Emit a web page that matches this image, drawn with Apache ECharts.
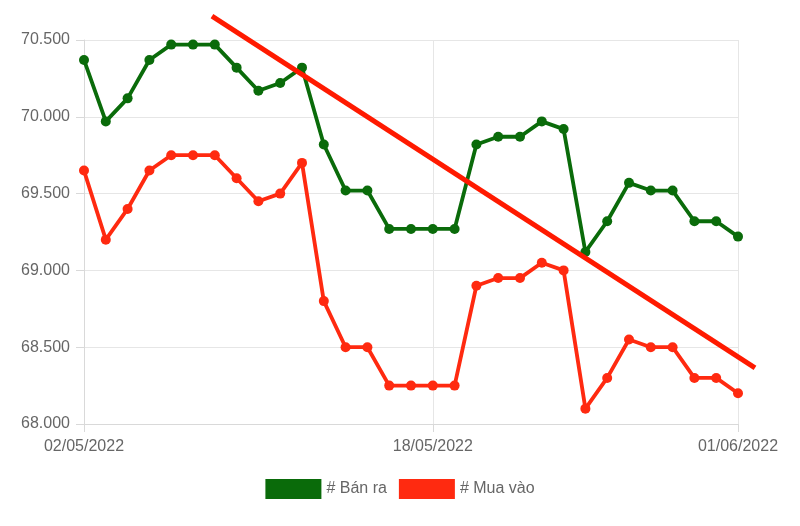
<!DOCTYPE html>
<html>
<head>
<meta charset="utf-8">
<script src="https://cdn.jsdelivr.net/npm/echarts@6/dist/echarts.min.js"></script>
<style>
html,body{margin:0;padding:0;background:#fff;}
#chart{width:800px;height:526px;}
</style>
</head>
<body>
<div id="chart"></div>
<script>
const categories = ["02/05/2022","03/05/2022","04/05/2022","05/05/2022","06/05/2022","07/05/2022","08/05/2022","09/05/2022","10/05/2022","11/05/2022","12/05/2022","13/05/2022","14/05/2022","15/05/2022","16/05/2022","17/05/2022","18/05/2022","19/05/2022","20/05/2022","21/05/2022","22/05/2022","23/05/2022","24/05/2022","25/05/2022","26/05/2022","27/05/2022","28/05/2022","29/05/2022","30/05/2022","31/05/2022","01/06/2022"];
const banRa = [70370,69970,70120,70370,70470,70470,70470,70320,70170,70220,70320,69820,69520,69520,69270,69270,69270,69270,69820,69870,69870,69970,69920,69120,69320,69570,69520,69520,69320,69320,69220];
const muaVao = [69650,69200,69400,69650,69750,69750,69750,69600,69450,69500,69700,68800,68500,68500,68250,68250,68250,68250,68900,68950,68950,69050,69000,68100,68300,68550,68500,68500,68300,68300,68200];
const trendX = [5.87, 30.78];
const trendY = [70656, 68365];
const labelIdx = [0, 16, 30];
const seriesNames = ["# Bán ra", "# Mua vào"];

function fmt(v){ return v.toFixed(0).replace(/\B(?=(\d{3})+(?!\d))/g, '.'); }

const chart = echarts.init(document.getElementById('chart'));
const font = 'Liberation Sans, Arial, sans-serif';
chart.setOption({
  animation: false,
  textStyle: {fontFamily: font},
  legend: {
    data: seriesNames,
    top: 474,
    left: 'center',
    icon: 'rect',
    itemWidth: 56,
    itemHeight: 20,
    itemGap: 12,
    textStyle: {color: '#666', fontSize: 16, fontFamily: font}
  },
  grid: {left: 84, right: 62, top: 40, bottom: 102},
  xAxis: [{
    type: 'category',
    data: categories,
    boundaryGap: false,
    axisLine: {show: true, lineStyle: {color: '#d9d9d9', width: 1}},
    axisTick: {show: true, length: 8, lineStyle: {color: '#d9d9d9'}, interval: (i) => labelIdx.includes(i)},
    axisLabel: {color: '#666', fontSize: 16, margin: 15, interval: (i) => labelIdx.includes(i), showMinLabel: true, showMaxLabel: true},
    splitLine: {show: true, lineStyle: {color: '#e6e6e6'}, interval: (i) => labelIdx.includes(i)}
  }, {
    type: 'value', min: 0, max: 30, show: false
  }],
  yAxis: {
    type: 'value',
    min: 68000, max: 70500, interval: 500,
    axisLine: {show: true, lineStyle: {color: '#d9d9d9'}},
    axisTick: {show: true, length: 8, lineStyle: {color: '#d9d9d9'}},
    axisLabel: {color: '#666', fontSize: 16, margin: 14, formatter: fmt},
    splitLine: {show: true, lineStyle: {color: '#e6e6e6'}}
  },
  series: [{
    name: seriesNames[0], type: 'line', data: banRa,
    color: '#006600',
    lineStyle: {width: 3.8, color: '#0a6b0a'},
    itemStyle: {color: '#0a6b0a'},
    symbol: 'circle', symbolSize: 10
  }, {
    name: seriesNames[1], type: 'line', data: muaVao,
    color: '#ff1a00',
    lineStyle: {width: 3.8, color: '#ff2a10'},
    itemStyle: {color: '#ff2a10'},
    symbol: 'circle', symbolSize: 10
  }]
});
// Trend line: endpoints converted through the chart's own scales (may extend past the grid)
const p0 = chart.convertToPixel({xAxisIndex: 1, yAxisIndex: 0}, [trendX[0], trendY[0]]);
const p1 = chart.convertToPixel({xAxisIndex: 1, yAxisIndex: 0}, [trendX[1], trendY[1]]);
chart.setOption({
  graphic: [{
    type: 'line', silent: true, z: 10,
    shape: {x1: p0[0], y1: p0[1], x2: p1[0], y2: p1[1]},
    style: {stroke: '#ff1a00', lineWidth: 5}
  }]
});
</script>
</body>
</html>
